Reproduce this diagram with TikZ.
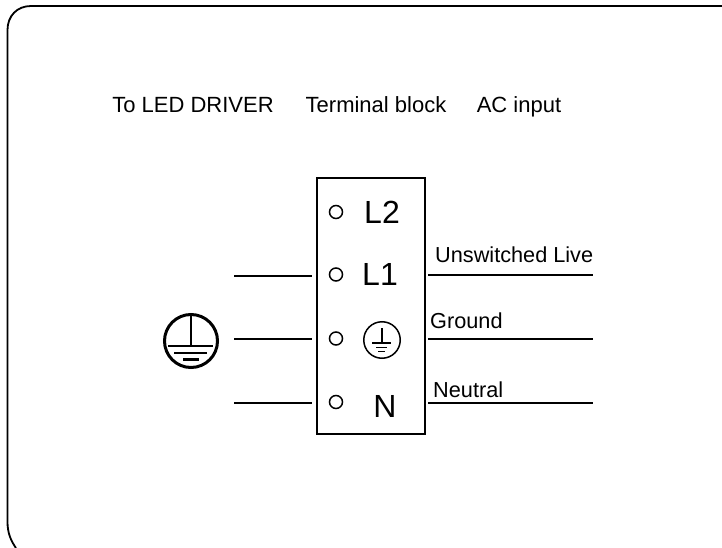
\documentclass[tikz,border=0pt]{standalone}
\usepackage{fontspec}
\setmainfont{Liberation Sans}
\usetikzlibrary{positioning,calc}
\tikzset{
	wire/.style={line width=1.6pt,black},
	caption/.style={inner sep=0pt,anchor=base,font=\fontsize{22}{24}\selectfont},
	wirelabel/.style={inner sep=0pt,anchor=base west,font=\fontsize{21.7}{24}\selectfont},
	pinlabel/.style={inner sep=0pt,anchor=base,font=\fontsize{32}{34}\selectfont},
	hole/.style={circle,draw,line width=1.5pt,minimum size=13pt,inner sep=0pt}
}
\begin{document}
\begin{tikzpicture}[x=1pt,y=-1pt]
	\useasboundingbox (0,0) rectangle (722,548);

	% Outer frame
	\draw[line width=1.8pt] (722,6) -- (31,6)
		.. controls (17,6) and (7.5,16) .. (7.5,30)
		-- (7.5,522)
		.. controls (7.5,533) and (11,541) .. (16,548);

	% Headings
	\node[caption] (driver) at (193,113) {To LED DRIVER};
	\node[caption] (block) at (376,113) {Terminal block};
	\node[caption] (input) at (519,113) {AC input};

	% Terminal block
	\node[draw,line width=1.5pt,minimum width=108pt,minimum height=256pt,inner sep=0pt] (terminal) at (371,306) {};
	\node[hole] (holeLtwo) at (336,212) {};
	\node[hole] (holeLone) at (336,274.5) {};
	\node[hole] (holeG) at (336,338.5) {};
	\node[hole] (holeN) at (336,402) {};
	\node[pinlabel] (Ltwo) at (382,223) {L2};
	\node[pinlabel] (Lone) at (380,285) {L1};
	\node[pinlabel] (N) at (385,417) {N};

	% Small ground mark
	\node[circle,draw,line width=1.5pt,minimum size=36.5pt,inner sep=0pt] (earthS) at (382,340) {};
	\draw[line width=1.3pt] (earthS.north) ++(0,7) -- (382,343);
	\draw[line width=1.3pt] (372,343) -- (391,343);
	\draw[line width=1.3pt] (376,347.5) -- (387,347.5);
	\draw[line width=1.3pt] (378,351.5) -- (385,351.5);

	% Big ground mark
	\node[circle,draw,line width=3pt,minimum size=53pt,inner sep=0pt] (earthB) at (191,341) {};
	\draw[line width=2.2pt] (earthB.north) -- (191,346);
	\draw[line width=2.2pt] (168,346) -- (213,346);
	\draw[line width=2.2pt] (174,353) -- (207,353);
	\draw[line width=2.2pt] (183,359.5) -- (199,359.5);

	% Wires on the driver side
	\coordinate (leftA) at (234,276);
	\coordinate (leftB) at (234,339);
	\coordinate (leftC) at (234,403);
	\draw[wire] (leftA) -- (312,276);
	\draw[wire] (leftB) -- (312,339);
	\draw[wire] (leftC) -- (312,403);

	% Wires on the AC side
	\coordinate (rightA) at (593,275);
	\coordinate (rightB) at (593,339);
	\coordinate (rightC) at (593,403);
	\draw[wire] (428,275) -- (rightA);
	\draw[wire] (428,339) -- (rightB);
	\draw[wire] (428,403) -- (rightC);

	\node[wirelabel] (live) at (435,262) {Unswitched Live};
	\node[wirelabel] (ground) at (430,328) {Ground};
	\node[wirelabel] (neutral) at (433,397) {Neutral};
\end{tikzpicture}
\end{document}
